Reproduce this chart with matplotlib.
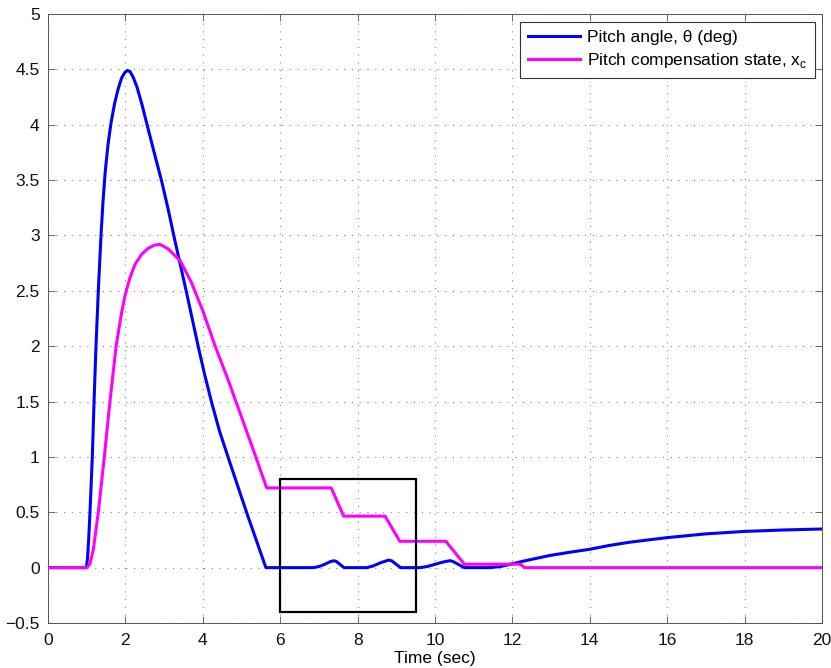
import matplotlib
matplotlib.use("Agg")
import matplotlib.pyplot as plt
from matplotlib.patches import Rectangle

plt.rcParams['font.family'] = ['Liberation Sans', 'DejaVu Sans']
plt.rcParams['mathtext.fontset'] = 'custom'
plt.rcParams['mathtext.rm'] = 'Liberation Sans'

# ---- data ----
t_pitch = [0, 0.99, 1.02, 1.05, 1.085, 1.145, 1.19, 1.24, 1.30, 1.37, 1.42, 1.48, 1.55,
           1.63, 1.72, 1.81, 1.90, 1.98, 2.05, 2.12, 2.20, 2.30, 2.43, 2.56, 2.75, 2.93,
           3.10, 3.25, 3.57, 3.88, 4.05, 4.23, 4.43, 4.67, 4.90, 5.15, 5.40, 5.63,
           6.86, 7.0, 7.15, 7.30, 7.39, 7.45, 7.65,
           8.24, 8.40, 8.60, 8.80, 8.88, 9.11,
           9.61, 9.80, 10.0, 10.2, 10.39, 10.46, 10.76,
           11.42, 11.7, 12.0, 12.3, 12.97, 13.5, 14.0, 14.5, 15.0, 15.5, 16.0, 17.0,
           18.0, 19.0, 20.0]
pitch = [0, 0, 0.08, 0.25, 0.5, 1.0, 1.5, 2.0, 2.5, 3.0, 3.3, 3.58, 3.82,
         4.02, 4.19, 4.32, 4.42, 4.47, 4.49, 4.48, 4.43, 4.34, 4.18, 4.0, 3.74, 3.5,
         3.245, 3.0, 2.5, 2.0, 1.74, 1.49, 1.235, 0.98, 0.74, 0.48, 0.23, 0,
         0, 0.01, 0.03, 0.055, 0.062, 0.056, 0,
         0, 0.015, 0.045, 0.068, 0.062, 0,
         0, 0.01, 0.03, 0.05, 0.063, 0.056, 0,
         0, 0.01, 0.035, 0.06, 0.11, 0.14, 0.166, 0.20, 0.228, 0.25, 0.271, 0.305,
         0.327, 0.340, 0.349]

t_comp = [0, 1.0, 1.08, 1.17, 1.30, 1.455, 1.60, 1.76, 1.90, 2.0, 2.12, 2.25, 2.42,
          2.59, 2.75, 2.89, 3.1, 3.42, 3.7, 4.0, 4.32, 4.65, 5.0, 5.37, 5.65,
          7.32, 7.64, 8.71, 9.09, 10.28, 10.76, 12.2, 12.32, 20.0]
comp = [0, 0, 0.03, 0.16, 0.5, 1.0, 1.5, 2.0, 2.3, 2.47, 2.62, 2.74, 2.83,
        2.885, 2.912, 2.92, 2.88, 2.77, 2.58, 2.32, 2.0, 1.70, 1.36, 1.0, 0.72,
        0.72, 0.465, 0.465, 0.238, 0.238, 0.031, 0.031, 0, 0]

box_t = [6.0, 9.5]
box_y = [-0.4, 0.8]

x_ticks = [0, 2, 4, 6, 8, 10, 12, 14, 16, 18, 20]
x_ticklabels = ['0', '2', '4', '6', '8', '10', '12', '14', '16', '18', '20']
y_ticks = [-0.5, 0, 0.5, 1, 1.5, 2, 2.5, 3, 3.5, 4, 4.5, 5]
y_ticklabels = ['\u22120.5', '0', '0.5', '1', '1.5', '2', '2.5', '3', '3.5', '4', '4.5', '5']

label_pitch = 'Pitch angle, \u03b8 (deg)'
label_comp = r'Pitch compensation state, x$_\mathregular{c}$'
xlabel = 'Time (sec)'

# ---- figure ----
fig = plt.figure(figsize=(8.31, 6.68), dpi=100)
ax = fig.add_axes([48/831, 1 - 623/668, (822-48)/831, (623-14)/668])

ax.plot(t_pitch, pitch, color='#0000ff', lw=2.2, label=label_pitch, zorder=3)
ax.plot(t_comp, comp, color='#ff00ff', lw=2.2, label=label_comp, zorder=3)
ax.add_patch(Rectangle((box_t[0], box_y[0]), box_t[1] - box_t[0], box_y[1] - box_y[0],
                       fill=False, edgecolor='black', lw=1.6, zorder=4))

ax.set_xlim(0, 20)
ax.set_ylim(-0.5, 5)
ax.set_xticks(x_ticks)
ax.set_xticklabels(x_ticklabels)
ax.set_yticks(y_ticks)
ax.set_yticklabels(y_ticklabels)
ax.tick_params(direction='in', length=5, width=0.6, color='#555555',
               top=True, right=True, labelsize=12.5, labelcolor='#111111')
ax.tick_params(axis='x', pad=7)
ax.tick_params(axis='y', pad=6)
for s in ax.spines.values():
    s.set_color('#555555')
    s.set_linewidth(0.7)
ax.grid(True, linestyle=(0, (1, 6)), color='#888888', lw=0.8)
ax.set_axisbelow(True)
ax.set_xlabel(xlabel, fontsize=12.5, labelpad=2)

leg = ax.legend(loc='upper right', bbox_to_anchor=(0.991, 0.987), borderaxespad=0,
                fontsize=12.5, handlelength=3.0, handletextpad=0.4,
                labelspacing=0.35, borderpad=0.45, fancybox=False, framealpha=1)
leg.get_frame().set_edgecolor('#333333')
leg.get_frame().set_linewidth(0.8)

fig.savefig('out.png', dpi=100)
